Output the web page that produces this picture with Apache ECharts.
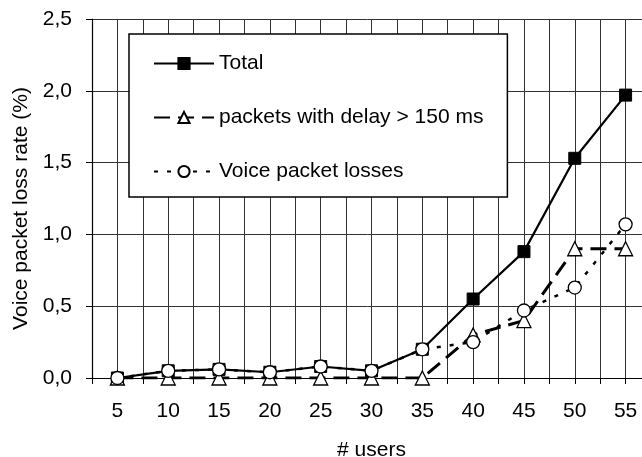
<!DOCTYPE html>
<html>
<head>
<meta charset="utf-8">
<script src="https://cdn.jsdelivr.net/npm/echarts@6/dist/echarts.min.js"></script>
<style>html,body{margin:0;padding:0;background:#fff;}#c{width:642px;height:457px;}</style>
</head>
<body>
<div id="c"></div>
<script>
const users = [5, 10, 15, 20, 25, 30, 35, 40, 45, 50, 55];
const total = [0, 0.05, 0.06, 0.04, 0.08, 0.05, 0.2, 0.55, 0.88, 1.53, 1.97];
const delayed = [0, 0, 0, 0, 0, 0, 0, 0.3, 0.4, 0.9, 0.9];
const voice = [0, 0.05, 0.06, 0.04, 0.08, 0.05, 0.2, 0.25, 0.47, 0.63, 1.07];
const seriesNames = ['Total', 'packets with delay > 150 ms', 'Voice packet losses'];
const yTicks = [0, 0.5, 1.0, 1.5, 2.0, 2.5];

const pair = arr => users.map((u, i) => [u, arr[i]]);
const FONT = 'Liberation Sans, Arial, sans-serif';

const chart = echarts.init(document.getElementById('c'));
chart.setOption({
  animation: false,
  backgroundColor: '#fff',
  textStyle: { fontFamily: FONT, color: '#000' },
  grid: { left: 92, right: -9, top: 19, bottom: 79, containLabel: false, outerBoundsMode: 'none' },
  legend: {
    orient: 'vertical',
    left: 129, top: 34,
    padding: [19, 24, 15, 24],
    itemGap: 33,
    itemWidth: 60, itemHeight: 14,
    backgroundColor: '#fff',
    borderColor: '#000', borderWidth: 1.5,
    textStyle: { fontFamily: FONT, fontSize: 21, color: '#000' },
    data: seriesNames,
    z: 10
  },
  xAxis: {
    type: 'value', min: 2.5, max: 57.5, interval: 2.5,
    name: '# users', nameLocation: 'middle', nameGap: 62,
    nameTextStyle: { fontFamily: FONT, fontSize: 21, color: '#000' },
    axisLine: { show: true, onZero: false, lineStyle: { color: '#000', width: 1.2 } },
    axisTick: { show: true, inside: false, length: 6, lineStyle: { color: '#000', width: 1 } },
    axisLabel: {
      margin: 23, fontFamily: FONT, fontSize: 21, color: '#000',
      formatter: v => (Math.abs(v % 5) < 1e-9 ? String(v) : '')
    },
    splitLine: { show: true, lineStyle: { color: '#333', width: 1 } }
  },
  yAxis: {
    type: 'value', min: yTicks[0], max: yTicks[yTicks.length - 1], interval: 0.5,
    name: 'Voice packet loss rate (%)', nameLocation: 'middle', nameGap: 55,
    nameTextStyle: { fontFamily: FONT, fontSize: 21, color: '#000', padding: [0, 20, 0, 0] },
    axisLine: { show: true, lineStyle: { color: '#000', width: 1.2 } },
    axisTick: { show: true, inside: false, length: 6, lineStyle: { color: '#000', width: 1 } },
    axisLabel: {
      margin: 20, fontFamily: FONT, fontSize: 21, color: '#000',
      formatter: v => v.toFixed(1).replace('.', ',')
    },
    splitLine: { show: true, lineStyle: { color: '#333', width: 1 } }
  },
  series: [
    {
      name: seriesNames[0], type: 'line', data: pair(total),
      symbol: 'rect', symbolSize: 12,
      lineStyle: { color: '#000', width: 2.2 },
      itemStyle: { color: '#000', borderColor: '#000', borderWidth: 1 },
      z: 2
    },
    {
      name: seriesNames[1], type: 'line', data: pair(delayed),
      symbol: 'triangle', symbolSize: 14,
      lineStyle: { color: '#000', width: 3, type: [16, 8] },
      itemStyle: { color: '#fff', borderColor: '#000', borderWidth: 1.3 },
      z: 3
    },
    {
      name: seriesNames[2], type: 'line', data: pair(voice),
      symbol: 'circle', symbolSize: 13,
      lineStyle: { color: '#000', width: 2.5, type: [4, 9] },
      itemStyle: { color: '#fff', borderColor: '#000', borderWidth: 1.3 },
      z: 4
    }
  ]
});
</script>
</body>
</html>
